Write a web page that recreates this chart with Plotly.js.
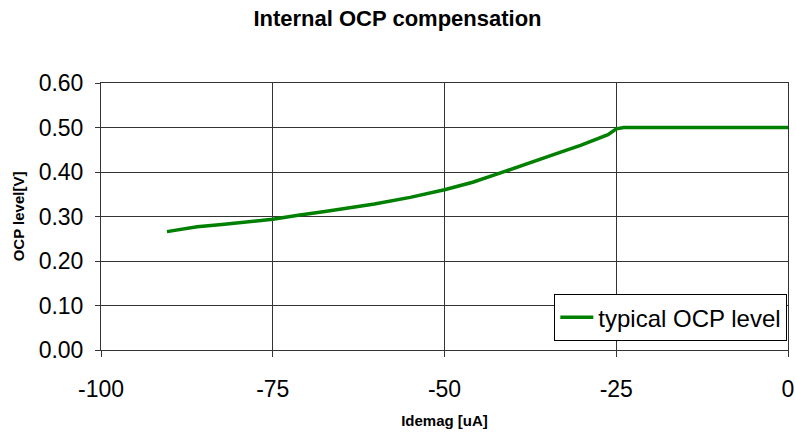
<!DOCTYPE html>
<html><head><meta charset="utf-8">
<script src="https://cdn.plot.ly/plotly-3.0.1.min.js"></script>
<style>html,body{margin:0;padding:0;background:#fff}#chart{width:795px;height:439px}</style>
</head><body><div id="chart"></div>
<script>
const idemag = [-90.4, -86.0, -82.4, -76.8, -75.0, -71.3, -67.4, -60.2, -55.0, -50.0, -45.9, -42.6, -39.3, -36.0, -33.4, -30.2, -27.5, -26.2, -25.0, -23.9, 0];
const ocpLevel = [0.266, 0.277, 0.282, 0.290, 0.294, 0.303, 0.311, 0.328, 0.343, 0.360, 0.377, 0.394, 0.411, 0.428, 0.443, 0.460, 0.475, 0.484, 0.497, 0.500, 0.500];
const xTicks = [-100, -75, -50, -25, 0];
const yTicks = [0, 0.1, 0.2, 0.3, 0.4, 0.5, 0.6];
const seriesName = 'typical OCP level';

const F = 'Liberation Sans, Arial, sans-serif';
Plotly.newPlot('chart', [{
  x: idemag, y: ocpLevel, type: 'scatter', mode: 'lines', name: seriesName,
  line: {color: '#008000', width: 3.5}
}], {
  width: 795, height: 439,
  margin: {l: 101, r: 7, t: 83, b: 89},
  paper_bgcolor: '#fff', plot_bgcolor: '#fff',
  font: {family: F, color: '#000'},
  title: {text: '<b>Internal OCP compensation</b>', font: {size: 22, family: F}, x: 0.5, xanchor: 'center', y: 0.958, yanchor: 'middle'},
  xaxis: {
    range: [-100, 0], tickvals: xTicks, ticktext: xTicks.map(String),
    showgrid: true, gridcolor: '#333', gridwidth: 1,
    showline: true, linecolor: '#333', mirror: true, zeroline: false,
    ticks: 'outside', ticklen: 6, tickcolor: '#333',
    ticklabelstandoff: 12,
    tickfont: {size: 23, family: F},
    title: {text: '<b>Idemag [uA]</b>', font: {size: 15, family: F}, standoff: 14}
  },
  yaxis: {
    range: [0, 0.6], tickvals: yTicks, tickformat: '.2f',
    showgrid: true, gridcolor: '#333', gridwidth: 1,
    showline: true, linecolor: '#333', mirror: true, zeroline: false,
    ticks: 'outside', ticklen: 5, tickcolor: '#333',
    ticklabelstandoff: 7,
    tickfont: {size: 23, family: F},
    title: {text: '<b>OCP level[V]</b>', font: {size: 15, family: F}, standoff: 10}
  },
  showlegend: true,
  legend: {x: 0.999, xanchor: 'right', y: 0.033, yanchor: 'bottom',
    bgcolor: '#fff', bordercolor: '#000', borderwidth: 1, itemwidth: 33,
    font: {size: 24, family: F}}
}, {displayModeBar: false, staticPlot: true});
</script></body></html>
